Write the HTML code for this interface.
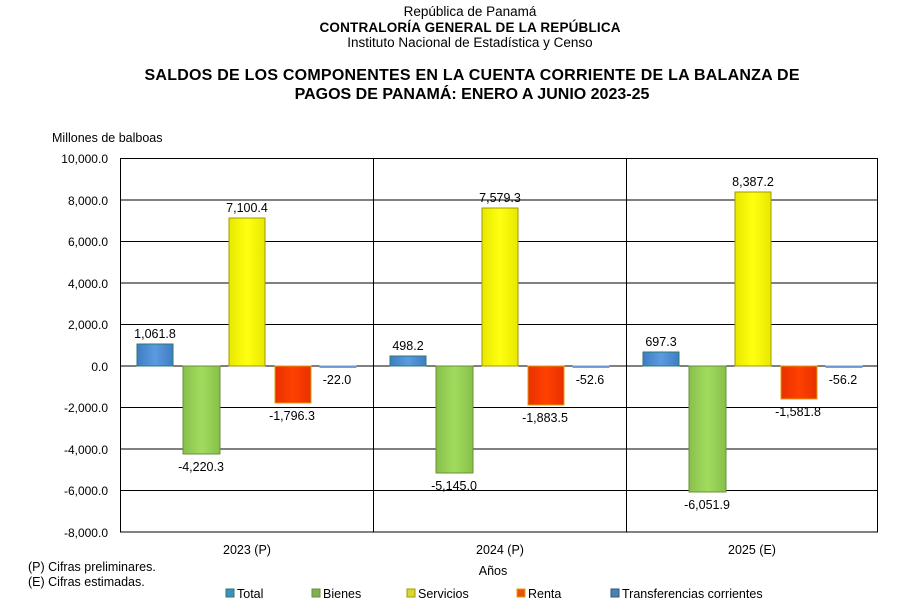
<!DOCTYPE html><html><head><meta charset="utf-8"><style>body{margin:0;background:#fff}svg{display:block;font-family:"Liberation Sans",sans-serif}</style></head><body>
<svg width="897" height="614" viewBox="0 0 897 614">
<defs>
<linearGradient id="gT" x1="0" y1="0" x2="1" y2="0"><stop offset="0" stop-color="#3f7cc4"/><stop offset=".5" stop-color="#5b9be0"/><stop offset="1" stop-color="#3f7cc4"/></linearGradient>
<linearGradient id="gB" x1="0" y1="0" x2="1" y2="0"><stop offset="0" stop-color="#86c04a"/><stop offset=".5" stop-color="#a2dc5e"/><stop offset="1" stop-color="#86c04a"/></linearGradient>
<linearGradient id="gS" x1="0" y1="0" x2="1" y2="0"><stop offset="0" stop-color="#e8e800"/><stop offset=".5" stop-color="#ffff10"/><stop offset="1" stop-color="#e8e800"/></linearGradient>
<linearGradient id="gR" x1="0" y1="0" x2="1" y2="0"><stop offset="0" stop-color="#e83000"/><stop offset=".5" stop-color="#ff4000"/><stop offset="1" stop-color="#e83000"/></linearGradient>
</defs>
<g text-anchor="middle" font-size="13.5">
<text x="470" y="16">República de Panamá</text>
<text x="470" y="32" font-weight="bold" textLength="301">CONTRALORÍA GENERAL DE LA REPÚBLICA</text>
<text x="470" y="47">Instituto Nacional de Estadística y Censo</text>
<text x="472" y="80" font-weight="bold" font-size="16" textLength="655">SALDOS DE LOS COMPONENTES EN LA CUENTA CORRIENTE DE LA BALANZA DE</text>
<text x="472" y="99" font-weight="bold" font-size="16">PAGOS DE PANAMÁ: ENERO A JUNIO 2023-25</text>
</g>
<text x="52" y="142" font-size="12.5">Millones de balboas</text>
<g stroke="#000" stroke-width="1">
<line x1="120" y1="158.5" x2="878" y2="158.5"/><line x1="120" y1="200" x2="878" y2="200"/><line x1="120" y1="241.5" x2="878" y2="241.5"/><line x1="120" y1="283" x2="878" y2="283"/><line x1="120" y1="324.5" x2="878" y2="324.5"/><line x1="120" y1="366" x2="878" y2="366"/><line x1="120" y1="407.5" x2="878" y2="407.5"/><line x1="120" y1="449" x2="878" y2="449"/><line x1="120" y1="490.5" x2="878" y2="490.5"/><line x1="120" y1="532" x2="878" y2="532"/>
<line x1="120.5" y1="158" x2="120.5" y2="532"/><line x1="373.5" y1="158" x2="373.5" y2="532"/><line x1="626.5" y1="158" x2="626.5" y2="532"/><line x1="877.5" y1="158" x2="877.5" y2="532"/>
</g>
<g font-size="12" text-anchor="end">
<text x="108" y="163">10,000.0</text><text x="108" y="205">8,000.0</text><text x="108" y="246">6,000.0</text><text x="108" y="288">4,000.0</text><text x="108" y="329">2,000.0</text><text x="108" y="371">0.0</text><text x="108" y="412">-2,000.0</text><text x="108" y="454">-4,000.0</text><text x="108" y="495">-6,000.0</text><text x="108" y="537">-8,000.0</text>
</g>
<g font-size="12.5" text-anchor="middle">
<rect x="137" y="344" width="36" height="22" fill="url(#gT)" stroke="#2a7a70"/><text x="155" y="338">1,061.8</text>
<rect x="183" y="366" width="37" height="88" fill="url(#gB)" stroke="#6b8f3a"/><text x="201" y="471">-4,220.3</text>
<rect x="229" y="218" width="36" height="148" fill="url(#gS)" stroke="#a09a00"/><text x="247" y="212">7,100.4</text>
<rect x="275" y="366" width="36" height="37" fill="url(#gR)" stroke="#e0a000"/><text x="292" y="420">-1,796.3</text>
<rect x="320" y="366" width="36" height="1.5" fill="#5b8fd0" stroke="#7aa0d0"/><text x="337" y="384">-22.0</text>
<rect x="390" y="356" width="36" height="10" fill="url(#gT)" stroke="#2a7a70"/><text x="408" y="350">498.2</text>
<rect x="436" y="366" width="37" height="107" fill="url(#gB)" stroke="#6b8f3a"/><text x="454" y="490">-5,145.0</text>
<rect x="482" y="208" width="36" height="158" fill="url(#gS)" stroke="#a09a00"/><text x="500" y="202">7,579.3</text>
<rect x="528" y="366" width="36" height="39" fill="url(#gR)" stroke="#e0a000"/><text x="545" y="422">-1,883.5</text>
<rect x="573" y="366" width="36" height="1.5" fill="#5b8fd0" stroke="#7aa0d0"/><text x="590" y="384">-52.6</text>
<rect x="643" y="352" width="36" height="14" fill="url(#gT)" stroke="#2a7a70"/><text x="661" y="346">697.3</text>
<rect x="689" y="366" width="37" height="126" fill="url(#gB)" stroke="#6b8f3a"/><text x="707" y="509">-6,051.9</text>
<rect x="735" y="192" width="36" height="174" fill="url(#gS)" stroke="#a09a00"/><text x="753" y="186">8,387.2</text>
<rect x="781" y="366" width="36" height="33" fill="url(#gR)" stroke="#e0a000"/><text x="798" y="416">-1,581.8</text>
<rect x="826" y="366" width="36" height="1.5" fill="#5b8fd0" stroke="#7aa0d0"/><text x="843" y="384">-56.2</text>
<text x="247" y="554">2023 (P)</text><text x="500" y="554">2024 (P)</text><text x="752" y="554">2025 (E)</text>
<text x="493" y="575">Años</text>
</g>
<g font-size="12.5">
<text x="28" y="571">(P) Cifras preliminares.</text>
<text x="28" y="586">(E) Cifras estimadas.</text>
<rect x="226" y="589" width="8" height="8" fill="#3f8fc0" stroke="#2a7a70"/><text x="237" y="598">Total</text>
<rect x="312" y="589" width="8" height="8" fill="#7fb050" stroke="#6b8f3a"/><text x="323" y="598">Bienes</text>
<rect x="407" y="589" width="8" height="8" fill="#d8d830" stroke="#a09a00"/><text x="418" y="598">Servicios</text>
<rect x="517" y="589" width="8" height="8" fill="#e85010" stroke="#e0a000"/><text x="528" y="598">Renta</text>
<rect x="611" y="589" width="8" height="8" fill="#4f80b0" stroke="#2a5a80"/><text x="622" y="598">Transferencias corrientes</text>
</g>
</svg></body></html>
